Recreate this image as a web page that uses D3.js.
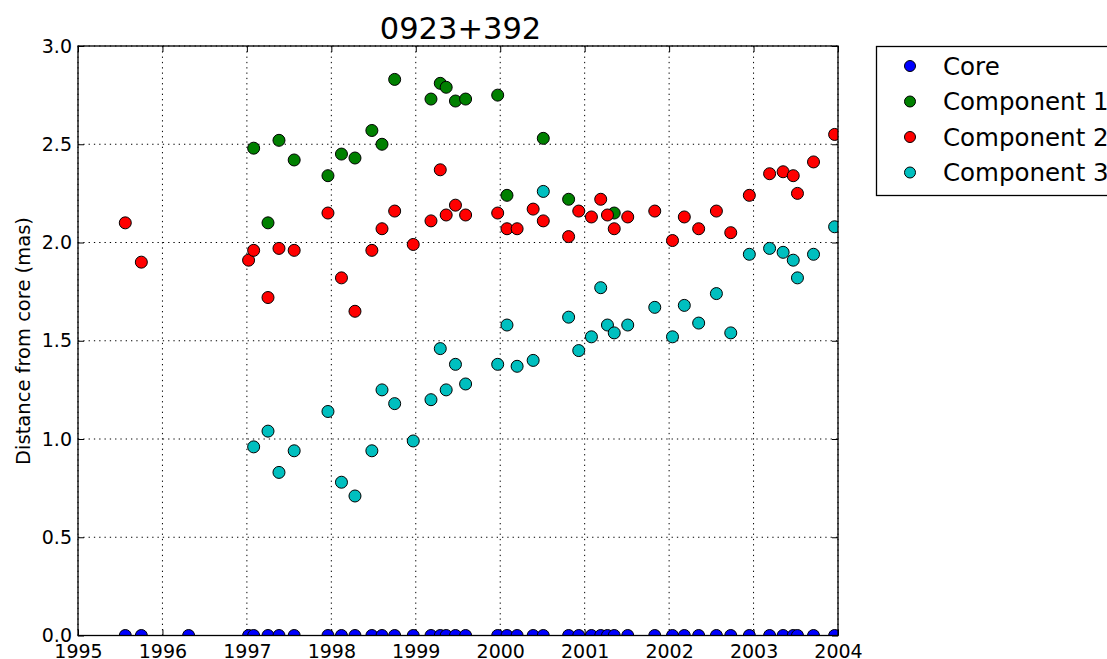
<!DOCTYPE html>
<html>
<head>
<meta charset="utf-8">
<script src="https://cdn.jsdelivr.net/npm/d3@7"></script>
<style>
  body { margin: 0; background: #fff; }
  text { font-family: "DejaVu Sans", sans-serif; }
</style>
</head>
<body>
<script>
// observation epochs (decimal year)
let epochs = [1995.56, 1995.75, 1996.31, 1997.02, 1997.08, 1997.25, 1997.38, 1997.56, 1997.96,
    1998.12, 1998.28, 1998.48, 1998.60, 1998.75, 1998.97, 1999.18, 1999.29, 1999.36, 1999.47,
    1999.59, 1999.97, 2000.08, 2000.20, 2000.39, 2000.51, 2000.81, 2000.93, 2001.08, 2001.19,
    2001.27, 2001.35, 2001.51, 2001.83, 2002.04, 2002.18, 2002.35, 2002.56, 2002.73, 2002.95,
    2003.19, 2003.35, 2003.47, 2003.52, 2003.71, 2003.96];

let core = epochs.map(() => 0);
let comp1 = [null, null, null, null, 2.48, 2.10, 2.52, 2.42, 2.34,
    2.45, 2.43, 2.57, 2.50, 2.83, null, 2.73, 2.81, 2.79, 2.72,
    2.73, 2.75, 2.24, null, null, 2.53, 2.22, null, null, null,
    null, 2.15, null, null, null, null, null, null, null, null,
    null, null, null, null, null, null];
let comp2 = [2.10, 1.90, null, 1.91, 1.96, 1.72, 1.97, 1.96, 2.15,
    1.82, 1.65, 1.96, 2.07, 2.16, 1.99, 2.11, 2.37, 2.14, 2.19,
    2.14, 2.15, 2.07, 2.07, 2.17, 2.11, 2.03, 2.16, 2.13, 2.22,
    2.14, 2.07, 2.13, 2.16, 2.01, 2.13, 2.07, 2.16, 2.05, 2.24,
    2.35, 2.36, 2.34, 2.25, 2.41, 2.55];
let comp3 = [null, null, null, null, 0.96, 1.04, 0.83, 0.94, 1.14,
    0.78, 0.71, 0.94, 1.25, 1.18, 0.99, 1.20, 1.46, 1.25, 1.38,
    1.28, 1.38, 1.58, 1.37, 1.40, 2.26, 1.62, 1.45, 1.52, 1.77,
    1.58, 1.54, 1.58, 1.67, 1.52, 1.68, 1.59, 1.74, 1.54, 1.94,
    1.97, 1.95, 1.91, 1.82, 1.94, 2.08];

let seriesNames = ["Core", "Component 1", "Component 2", "Component 3"];
let seriesValues = [core, comp1, comp2, comp3];
let colors = ["#0000ff", "#008000", "#ff0000", "#00bfbf"];

let xTicks = [1995, 1996, 1997, 1998, 1999, 2000, 2001, 2002, 2003, 2004];
let yTicks = [0, 0.5, 1.0, 1.5, 2.0, 2.5, 3.0];

let width = 1107;
let height = 659;
let plotLeft = 78, plotRight = 838, plotTop = 46, plotBottom = 635.5;

let svg = d3.select("body").append("svg")
    .attr("width", width)
    .attr("height", height);

let x = d3.scaleLinear().domain([1995, 2004]).range([plotLeft, plotRight]);
let y = d3.scaleLinear().domain([0, 3]).range([plotBottom, plotTop]);

svg.append("clipPath").attr("id", "plotclip")
    .append("rect")
    .attr("x", plotLeft).attr("y", plotTop)
    .attr("width", plotRight - plotLeft).attr("height", plotBottom - plotTop);

// grid
let grid = svg.append("g");
grid.selectAll(".vgrid")
    .data(xTicks)
    .join("line")
    .attr("x1", d => x(d)).attr("x2", d => x(d))
    .attr("y1", plotTop).attr("y2", plotBottom)
    .attr("stroke", "black")
    .attr("stroke-width", 1)
    .attr("stroke-dasharray", "1.3,4");
grid.selectAll(".hgrid")
    .data(yTicks)
    .join("line")
    .attr("x1", plotLeft).attr("x2", plotRight)
    .attr("y1", d => y(d)).attr("y2", d => y(d))
    .attr("stroke", "black")
    .attr("stroke-width", 1)
    .attr("stroke-dasharray", "1.3,4");

// axes, ticks pointing inwards
let xAxis = svg.append("g")
    .attr("transform", `translate(0,${plotBottom})`)
    .call(d3.axisBottom(x).tickValues(xTicks).tickFormat(d3.format("d")).tickSize(-6).tickPadding(9));
let xAxisTop = svg.append("g")
    .attr("transform", `translate(0,${plotTop})`)
    .call(d3.axisTop(x).tickValues(xTicks).tickFormat("").tickSize(-6));
let yAxis = svg.append("g")
    .attr("transform", `translate(${plotLeft},0)`)
    .call(d3.axisLeft(y).tickValues(yTicks).tickFormat(d3.format(".1f")).tickSize(-6).tickPadding(6));
let yAxisRight = svg.append("g")
    .attr("transform", `translate(${plotRight},0)`)
    .call(d3.axisRight(y).tickValues(yTicks).tickFormat("").tickSize(-6));

[xAxis, xAxisTop, yAxis, yAxisRight].forEach(a => {
    a.select(".domain").remove();
    a.selectAll("line").attr("stroke", "black").attr("stroke-width", 1);
    a.selectAll("text")
        .attr("fill", "black")
        .style("font-family", "DejaVu Sans, sans-serif")
        .style("font-size", "19px");
});

// points
let points = svg.append("g").attr("clip-path", "url(#plotclip)");
seriesValues.forEach((vals, s) => {
    let pts = epochs.map((e, i) => ({t: e, v: vals[i]})).filter(d => d.v !== null);
    points.append("g")
        .selectAll("circle")
        .data(pts)
        .join("circle")
        .attr("cx", d => x(d.t))
        .attr("cy", d => y(d.v))
        .attr("r", 6)
        .attr("fill", colors[s])
        .attr("stroke", "black")
        .attr("stroke-width", 1);
});

// frame
svg.append("rect")
    .attr("x", plotLeft).attr("y", plotTop)
    .attr("width", plotRight - plotLeft).attr("height", plotBottom - plotTop)
    .attr("fill", "none")
    .attr("stroke", "black")
    .attr("stroke-width", 1.3);

// title
svg.append("text")
    .attr("x", 460.5)
    .attr("y", 39)
    .attr("text-anchor", "middle")
    .style("font-size", "30.5px")
    .text("0923+392");

// y label
svg.append("text")
    .attr("transform", "translate(30,341) rotate(-90)")
    .attr("text-anchor", "middle")
    .style("font-size", "19.5px")
    .text("Distance from core (mas)");

// legend
let legend = svg.append("g");
legend.append("rect")
    .attr("x", 876.5).attr("y", 46.5)
    .attr("width", 260).attr("height", 149)
    .attr("fill", "white")
    .attr("stroke", "black")
    .attr("stroke-width", 1.3);

let items = legend.selectAll(".legend-item")
    .data(seriesNames)
    .join("g")
    .attr("class", "legend-item")
    .attr("transform", (d, i) => `translate(910,${66 + i * 35.5})`);
items.append("circle")
    .attr("r", 5.5)
    .attr("fill", (d, i) => colors[i])
    .attr("stroke", "black")
    .attr("stroke-width", 1);
items.append("text")
    .attr("x", 33)
    .attr("dy", "0.36em")
    .style("font-size", "24.5px")
    .text(d => d);
</script>
</body>
</html>
